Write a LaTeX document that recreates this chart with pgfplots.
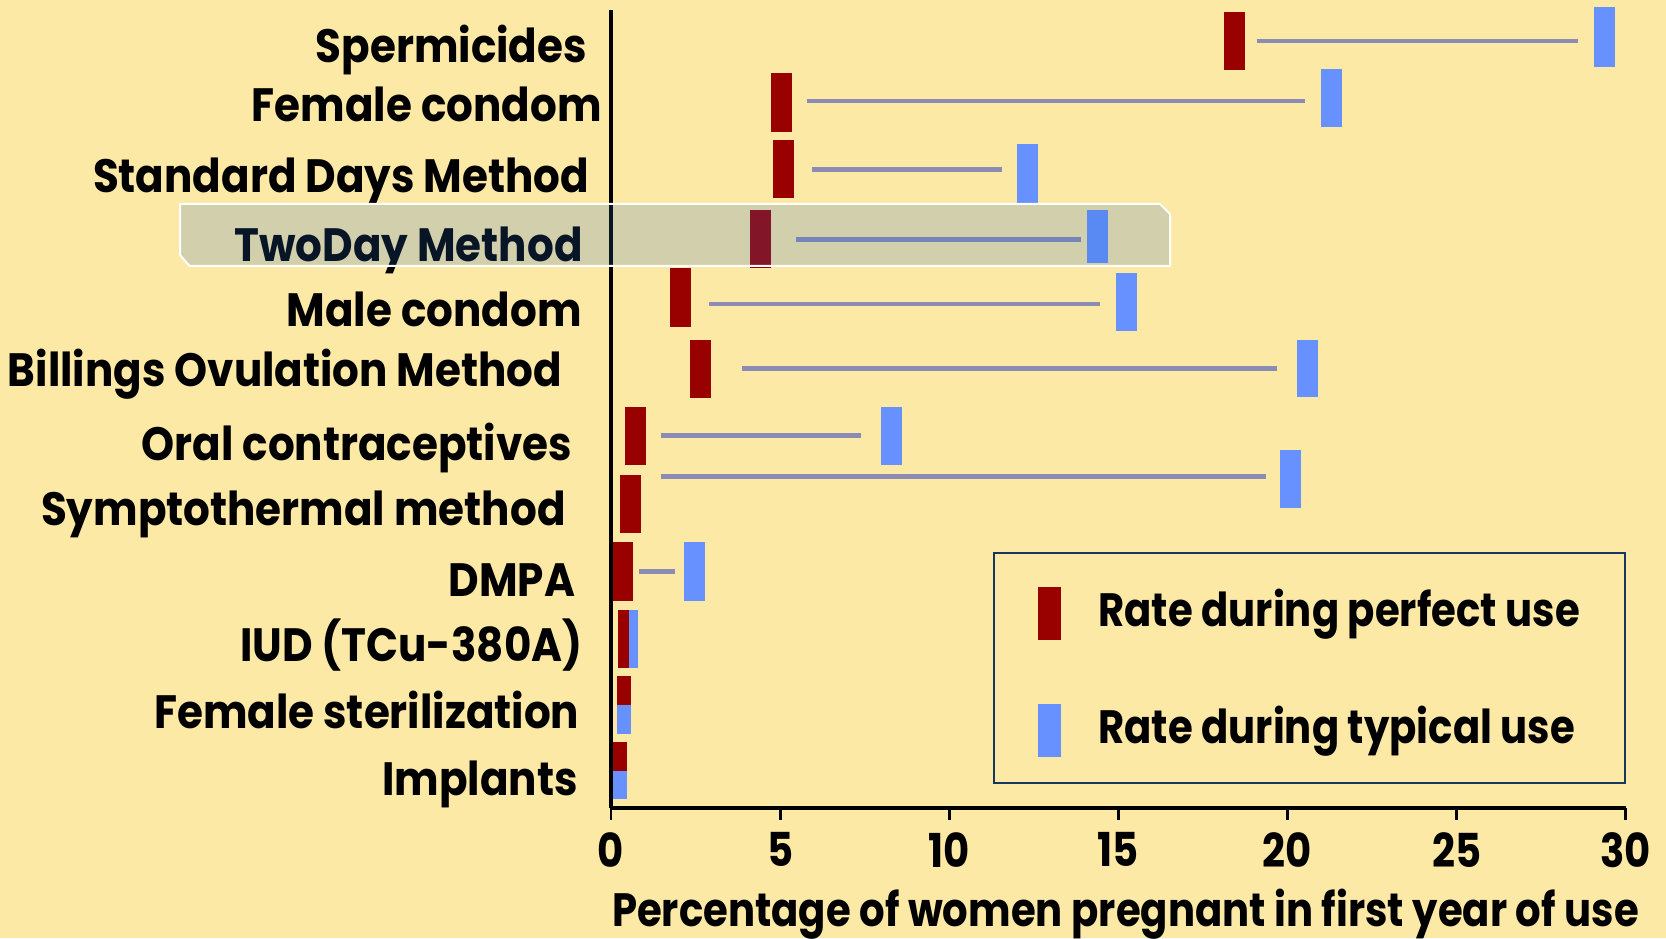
\documentclass[border=0pt]{standalone}
\usepackage{fontspec}
\setmainfont{Poppins}[FakeStretch=0.86]
\newfontfamily\ylblfamily{Poppins}[FakeStretch=0.90]
\usepackage{pgfplots}
\pgfplotsset{compat=1.18}
\definecolor{bg}{RGB}{253,233,166}
\definecolor{darkred}{RGB}{153,0,0}
\definecolor{lightblue}{RGB}{102,145,255}
\definecolor{linec}{RGB}{139,139,180}
\definecolor{navy}{RGB}{23,55,94}
\definecolor{hl}{RGB}{40,105,196}
\newcommand\lbl{\bfseries\fontsize{13.3}{16}\selectfont}
\newcommand\ylbl{\ylblfamily\bfseries\fontsize{13.3}{16}\selectfont}
\newcommand\legtext[1]{\raisebox{0pt}[3.25mm][0pt]{\makebox[48.3mm][l]{#1}}}
\begin{document}
\begin{tikzpicture}
\useasboundingbox (0,0) rectangle (166.6mm,93.8mm);
\fill[bg] (0,0) rectangle (166.6mm,93.8mm);
\begin{axis}[
  at={(61.1mm,13mm)}, anchor=south west,
  scale only axis, width=101.47mm, height=79.8mm,
  xmin=0, xmax=30, ymin=130, ymax=928,
  clip=false, axis on top,
  axis x line*=bottom, axis y line*=left,
  x axis line style={line width=1.2pt, black},
  y axis line style={line width=0.9pt, black},
  xtick={0,5,...,30},
  xtick align=outside,
  major tick length=1.17mm,
  x tick style={line width=0.85pt, black},
  ytick style={draw=none},
  ytick={159,226,293,358,429,494,568,628,693,762,833,891.7},
  yticklabels={Implants\kern2.41mm, Female sterilization\kern2.24mm, IUD (TCu-380A)\kern1.91mm, DMPA\kern2.65mm, Symptothermal method\kern3.61mm, Oral contraceptives\kern2.97mm, Billings Ovulation Method\kern3.94mm, Male condom\kern2.01mm, TwoDay Method\kern1.9mm, Standard Days Method\kern1.27mm, Female condom, Spermicides\kern1.48mm},
  /pgf/number format/assume math mode=true,
  xticklabel style={font=\lbl, anchor=north, inner sep=0pt, yshift=-1.2mm},
  yticklabel style={font=\ylbl, anchor=base east, inner sep=0pt, xshift=-0.86mm, yshift=-1.63mm},
  xlabel={Percentage of women pregnant in first year of use},
  xlabel style={at={(axis description cs:0.507,-0.1487)}, anchor=base, inner sep=0pt, font=\lbl},
  legend image code/.code={\fill[#1] (0mm,-2.6mm) rectangle (2.1mm,2.47mm); \path[draw=none, fill=none] (0mm,2.47mm) rectangle (0.1mm,3.34mm);},
  legend cell align=left,
  legend style={at={(axis description cs:0.3765,0.030)}, anchor=south west,
    draw=navy, line width=0.6pt, fill=none, inner xsep=4.37mm, inner ysep=2.6mm,
    row sep=5.68mm, column sep=3.75mm, nodes={inner sep=0pt}, font=\lbl},
]
% connecting lines (from perfect-use toward typical-use)
\addplot[forget plot, draw=none, error bars/.cd, x dir=plus, x explicit, error mark=none,
  error bar style={line width=0.45mm, color=linec}] table[x=x, y=y, x error=d]{
x y d
19.09 897 9.50
5.78 837 14.74
5.94 768.7 5.62
5.47 698.7 8.42
2.91 634 11.55
3.87 569.7 15.82
1.47 502.3 5.93
1.47 461.3 17.90
0.84 366.7 1.05
};
% perfect use
\addplot[forget plot, draw=none, error bars/.cd, y dir=both, y explicit, error mark=none,
  error bar style={line width=2.1mm, color=darkred}] table[x=x, y=y, y error=e]{
x y e
18.44 897.2 29.2
5.04 835.5 29.2
5.10 768.8 29.2
4.43 698.8 29.2
2.05 640.6 29.2
2.64 569.2 28.8
0.713 502.2 29.2
0.569 433.8 29.2
0.337 366.5 29.2
};
% typical use
\addplot[forget plot, draw=none, error bars/.cd, y dir=both, y explicit, error mark=none,
  error bar style={line width=2.1mm, color=lightblue}] table[x=x, y=y, y error=e]{
x y e
29.38 901.0 29.7
21.29 839.8 29.2
12.32 764.6 29.3
14.38 701.3 26.7
15.23 636.3 29.0
20.59 569.5 28.5
8.28 502.2 29.2
20.10 458.8 28.8
2.457 366.5 29.2
};
% IUD
\addplot[forget plot, draw=none, error bars/.cd, y dir=both, y explicit, error mark=none,
  error bar style={line width=1.1mm, color=darkred}] table[x=x, y=y, y error=e]{
x y e
0.37 298.8 29.2
};
\addplot[forget plot, draw=none, error bars/.cd, y dir=both, y explicit, error mark=none,
  error bar style={line width=0.95mm, color=lightblue}] table[x=x, y=y, y error=e]{
x y e
0.672 298.8 29.2
};
% Female sterilization
\addplot[forget plot, draw=none, error bars/.cd, y dir=both, y explicit, error mark=none,
  error bar style={line width=1.43mm, color=darkred}] table[x=x, y=y, y error=e]{
x y e
0.389 247.3 14.7
};
\addplot[forget plot, draw=none, error bars/.cd, y dir=both, y explicit, error mark=none,
  error bar style={line width=1.43mm, color=lightblue}] table[x=x, y=y, y error=e]{
x y e
0.389 218.3 14.3
};
% Implants
\addplot[forget plot, draw=none, error bars/.cd, y dir=both, y explicit, error mark=none,
  error bar style={line width=1.6mm, color=darkred}] table[x=x, y=y, y error=e]{
x y e
0.237 181.8 14.5
};
\addplot[forget plot, draw=none, error bars/.cd, y dir=both, y explicit, error mark=none,
  error bar style={line width=1.6mm, color=lightblue}] table[x=x, y=y, y error=e]{
x y e
0.237 153.1 14.2
};
\addlegendimage{darkred}
\addlegendentry{\legtext{Rate during perfect use}}
\addlegendimage{lightblue}
\addlegendentry{\legtext{Rate during typical use}}
\end{axis}
\draw[white, line width=0.57pt, fill=hl, fill opacity=0.2]
  (18mm,73.4mm) -- (116mm,73.4mm) -- (117mm,72.4mm) -- (117mm,67.2mm)
  -- (18.95mm,67.2mm) -- (18mm,68.3mm) -- cycle;
\end{tikzpicture}
\end{document}
